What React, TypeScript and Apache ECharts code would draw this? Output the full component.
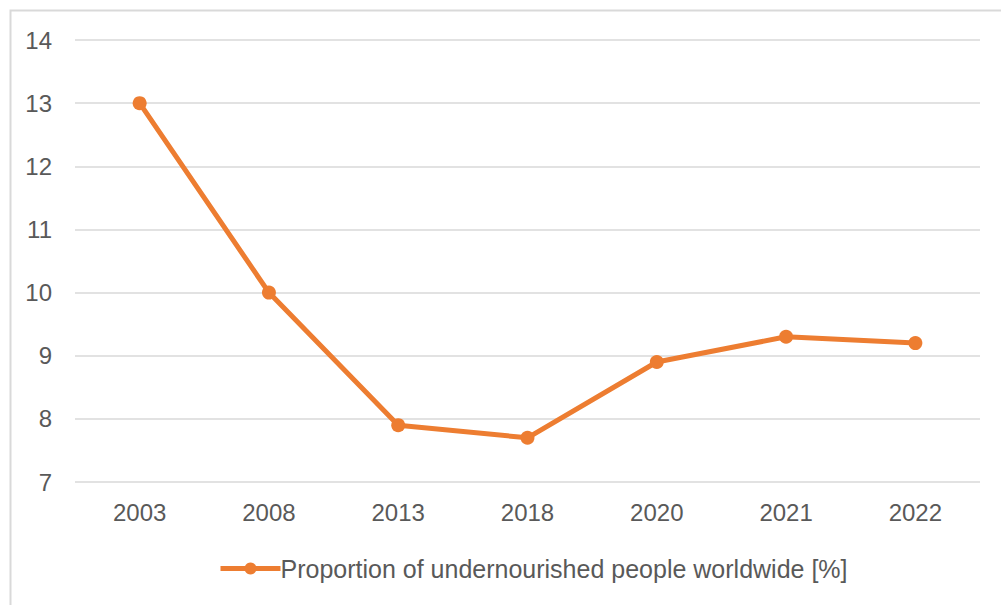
import React, { useEffect, useRef } from "react";
import * as echarts from "echarts";

const years = ["2003", "2008", "2013", "2018", "2020", "2021", "2022"];
const undernourished = [13.0, 10.0, 7.9, 7.7, 8.9, 9.3, 9.2];
const seriesName = "Proportion of undernourished people worldwide [%]";

export default function App() {
  const ref = useRef<HTMLDivElement>(null);
  useEffect(() => {
    const chart = echarts.init(ref.current!, undefined, { renderer: "svg" });
    chart.setOption({
      animation: false,
      backgroundColor: "#ffffff",
      textStyle: { fontFamily: "Liberation Sans, Arial, sans-serif" },
      graphic: [
        {
          type: "rect",
          left: 8,
          top: 8,
          shape: { width: 1100, height: 700 },
          style: { fill: "none", stroke: "#d9d9d9", lineWidth: 2 },
          silent: true,
        },
      ],
      grid: { left: 75, right: 21, top: 40, bottom: 123, containLabel: false },
      xAxis: {
        type: "category",
        data: years,
        boundaryGap: true,
        axisLine: { show: false },
        axisTick: { show: false },
        axisLabel: { color: "#595959", fontSize: 24, margin: 18 },
      },
      yAxis: {
        type: "value",
        min: 7,
        max: 14,
        interval: 1,
        axisLine: { show: false },
        axisTick: { show: false },
        axisLabel: { color: "#595959", fontSize: 24, margin: 23 },
        splitLine: { lineStyle: { color: "#d9d9d9", width: 1.5 } },
      },
      legend: {
        top: 551,
        left: 213,
        itemWidth: 60,
        itemHeight: 15,
        itemGap: 10,
        lineStyle: { width: 5 },
        textStyle: { color: "#595959", fontSize: 25, padding: [0, 0, 0, -5] },
        data: [seriesName],
      },
      series: [
        {
          name: seriesName,
          type: "line",
          data: undernourished,
          color: "#ED7D31",
          lineStyle: { width: 5, color: "#ED7D31" },
          itemStyle: { color: "#ED7D31" },
          symbol: "circle",
          symbolSize: 14,
        },
      ],
    });
    return () => chart.dispose();
  }, []);
  return (
    <div
      ref={ref}
      style={{ position: "absolute", left: 0, top: 0, width: 1001, height: 605 }}
    />
  );
}
